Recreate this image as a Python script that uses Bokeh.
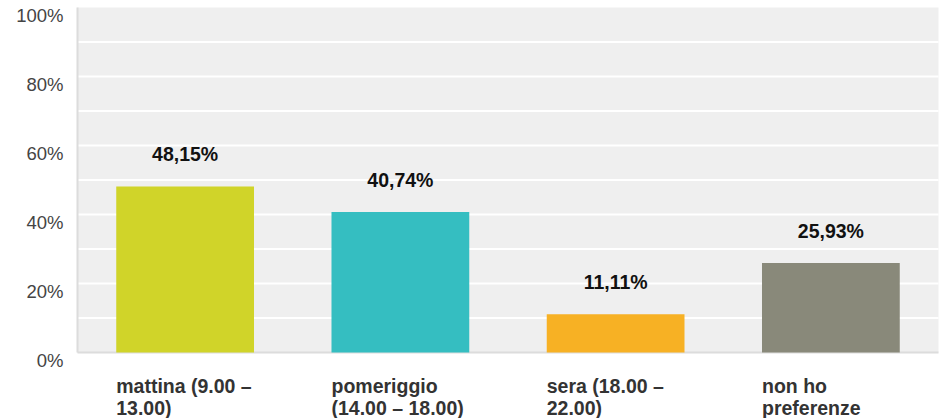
from bokeh.plotting import figure
from bokeh.models import ColumnDataSource, Range1d, LabelSet, Label, BoxAnnotation
from bokeh.core.properties import value
from bokeh.embed import file_html
from bokeh.resources import INLINE

categories = ["mattina", "pomeriggio", "sera", "non ho preferenze"]
label_line1 = ["mattina (9.00 \u2013", "pomeriggio", "sera (18.00 \u2013", "non ho"]
label_line2 = ["13.00)", "(14.00 \u2013 18.00)", "22.00)", "preferenze"]
values = [48.15, 40.74, 11.11, 25.93]
colors = ["#d0d429", "#35bec1", "#f7b124", "#89897a"]
y_ticks = [0, 20, 40, 60, 80, 100]
y_tick_labels = ["0%", "20%", "40%", "60%", "80%", "100%"]
grid_values = [10, 20, 30, 40, 50, 60, 70, 80, 90]

n = len(categories)
# category i occupies the slot [i, i+1] on the x scale
slot_center = [i + 0.5 for i in range(n)]
value_text = [f"{v:.2f}".replace(".", ",") + "%" for v in values]

src = ColumnDataSource(dict(x=slot_center, cat=categories, val=values, color=colors, txt=value_text))

# layout (pixels): the frame fills the whole figure; the plotting box sits inside it
W, H = 940, 418
PL, PR, PT, PB = 77, 938, 7, 352
BAR_W = 0.64
sx = (PR - PL) / n
sy = (PB - PT) / 100.0

p = figure(width=W, height=H,
           x_range=Range1d(-PL / sx, n + (W - PR) / sx),
           y_range=Range1d(-(H - PB) / sy, 100 + PT / sy),
           output_backend="svg", toolbar_location=None,
           x_axis_location=None, y_axis_location=None,
           min_border=0)
p.min_border_left = p.min_border_right = p.min_border_top = p.min_border_bottom = 0
p.xgrid.visible = False
p.ygrid.visible = False
p.outline_line_color = None
p.background_fill_color = "white"
p.border_fill_color = "white"

# plot box background
p.add_layout(BoxAnnotation(left=0, right=n, bottom=0, top=100, fill_color="#efefef",
                           fill_alpha=1, line_color=None, level="underlay"))

# gridlines
p.segment(x0=[0] * len(grid_values), x1=[n] * len(grid_values), y0=grid_values, y1=grid_values,
          line_color="white", line_width=2)

# box edges (left and bottom)
p.segment(x0=[0, 0], y0=[0, 0], x1=[0, n], y1=[100, 0], line_color="#dcdcdc", line_width=2)

p.vbar(x="x", top="val", width=BAR_W, color="color", source=src, line_color=None)

# value labels
p.add_layout(LabelSet(x="x", y="val", text="txt", source=src, text_align="center",
                      text_baseline="middle", y_offset=32, text_font=value("Liberation Sans"),
                      text_font_style="bold", text_font_size="19.5px", text_color="#111111"))

# y tick labels (slightly below their gridline, as in the reference)
for t, lab in zip(y_ticks, y_tick_labels):
    p.add_layout(Label(x=0, y=t, text=lab, text_align="right",
                       text_baseline="middle", x_offset=-14, y_offset=-8,
                       text_font="Liberation Sans", text_font_size="18.5px", text_color="#444444"))

# category labels, left-aligned with the bar's left edge
for xc, l1, l2 in zip(slot_center, label_line1, label_line2):
    left = xc - BAR_W / 2
    for txt, off in ((l1, -33), (l2, -55)):
        p.add_layout(Label(x=left, y=0, text=txt, text_align="left",
                           text_baseline="middle", y_offset=off,
                           text_font="Liberation Sans", text_font_style="bold",
                           text_font_size="19.5px", text_color="#333333"))

open("out.html", "w").write(file_html(p, INLINE))
